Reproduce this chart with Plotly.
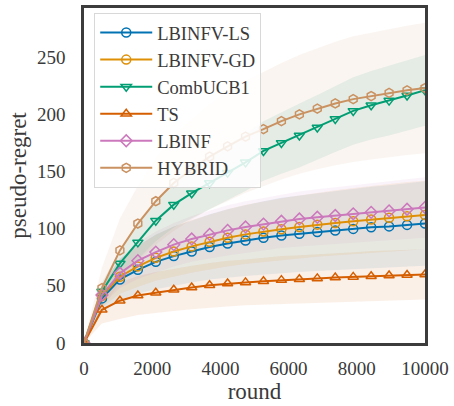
import plotly.graph_objects as go

rounds = [0, 526, 1053, 1579, 2105, 2632, 3158, 3684, 4211, 4737,
          5263, 5789, 6316, 6842, 7368, 7895, 8421, 8947, 9474, 10000]

names = ["LBINFV-LS", "LBINFV-GD", "CombUCB1", "TS", "LBINF", "HYBRID"]

ls_mean = [0, 39, 55.6, 64, 71, 76, 80, 84, 87, 89.7, 92, 94, 95.5, 97, 98.3, 99.8, 101.2, 102, 103.3, 104.5]
gd_mean = [0, 41, 58, 67, 74.5, 80, 84.5, 88.5, 92, 95, 97.5, 99.5, 101.5, 103.5, 105, 106.5, 108, 109.5, 110.8, 112]
ucb_mean = [0, 45, 69.6, 88, 107, 121, 131, 140, 149, 158, 168, 175, 181.5, 188.5, 196, 203, 208, 212, 216.5, 221]
ts_mean = [0, 29, 37, 41.5, 44, 46.5, 48.5, 50.5, 52, 53, 54, 55, 55.8, 56.5, 57.2, 57.8, 58.4, 59, 59.5, 60]
lbinf_mean = [0, 42, 61, 72, 79.5, 86, 91, 95, 98.5, 101.5, 104, 106.5, 108.5, 110, 111.5, 113, 114.3, 115.5, 117, 118.5]
hyb_mean = [0, 48, 81, 104.5, 124, 140, 152, 163, 172, 180.5, 187, 194, 200, 205, 209.5, 213.3, 216, 218.8, 221, 223]

ls_std = [0, 12, 18, 21, 24, 26, 27, 28.5, 30, 31, 32, 33, 33.5, 34, 34.5, 35, 35.5, 36, 36.5, 37]
gd_std = [0, 10, 15, 18, 20, 22, 23, 24, 25, 26, 26.5, 27, 27.5, 28, 28.5, 29, 29, 29.5, 30, 30]
ucb_std = [0, 8, 12, 15, 18, 20, 21.5, 23, 24, 25, 26, 27, 28, 28.5, 29, 29.5, 30, 30.5, 31, 31]
ts_std = [0, 12, 16, 17, 18, 18.5, 19, 19.5, 20, 20, 20.5, 21, 21, 21, 21.5, 21.5, 22, 22, 22, 22]
lbinf_std = [0, 9, 13, 16, 18, 19, 20, 21, 22, 22.5, 23, 23.5, 24, 24.5, 25, 25, 25.5, 26, 26, 26.5]
hyb_std = [0, 18, 28, 33, 38, 42, 44, 46, 48, 49, 50, 51, 52, 53, 54, 55, 55.5, 56, 56.5, 57]

means = [ls_mean, gd_mean, ucb_mean, ts_mean, lbinf_mean, hyb_mean]
stds = [ls_std, gd_std, ucb_std, ts_std, lbinf_std, hyb_std]
colors = ["#0173b2", "#de8f05", "#029e73", "#d55e00", "#cc78bc", "#ca9161"]
symbols = ["circle-open", "circle-open", "triangle-down-open", "triangle-up-open",
           "diamond-open", "hexagon-open"]

x_ticks = [0, 2000, 4000, 6000, 8000, 10000]
y_ticks = [0, 50, 100, 150, 200, 250]


def rgba(hexc, a):
    h = hexc.lstrip("#")
    r, g, b = int(h[0:2], 16), int(h[2:4], 16), int(h[4:6], 16)
    return f"rgba({r},{g},{b},{a})"


fig = go.Figure()

for m, s, c in zip(means, stds, colors):
    upper = [a + b for a, b in zip(m, s)]
    lower = [max(a - b, 0) for a, b in zip(m, s)]
    fig.add_trace(go.Scatter(
        x=rounds + rounds[::-1], y=upper + lower[::-1],
        fill="toself", fillcolor=rgba(c, 0.09), line=dict(width=0),
        mode="lines", showlegend=False, hoverinfo="skip"))

for name, m, c, sym in zip(names, means, colors, symbols):
    fig.add_trace(go.Scatter(
        x=rounds, y=m, name=name, mode="lines+markers",
        line=dict(color=c, width=2),
        marker=dict(symbol=sym, size=9, color=c, line=dict(color=c, width=1.5))))

font_fam = "Liberation Serif"

fig.update_layout(
    width=454, height=406,
    margin=dict(l=84, r=28, t=5, b=63),
    paper_bgcolor="white", plot_bgcolor="white",
    font=dict(family=font_fam, size=19, color="#3a3a3a"),
    showlegend=True,
    legend=dict(x=0.03, y=0.985, xanchor="left", yanchor="top",
                bgcolor="rgba(255,255,255,0.85)", bordercolor="#d8d8d8", borderwidth=1,
                font=dict(family=font_fam, size=18.5, color="#3a3a3a"),
                itemwidth=52, tracegroupgap=0),
)
fig.update_xaxes(range=[0, 10000], tickvals=x_ticks, ticktext=[str(v) for v in x_ticks],
                 showgrid=False, zeroline=False, showline=True, mirror=True,
                 linecolor="#3c3c3c", linewidth=2.5, ticks="", ticklabelstandoff=6,
                 title=dict(text="round", standoff=4))
fig.update_yaxes(range=[0, 293], tickvals=y_ticks, ticktext=[str(v) for v in y_ticks],
                 showgrid=False, zeroline=False, showline=True, mirror=True,
                 linecolor="#3c3c3c", linewidth=2.5, ticks="", ticklabelstandoff=12,
                 title=dict(text="pseudo-regret", standoff=4))

fig.write_html("out.html")
